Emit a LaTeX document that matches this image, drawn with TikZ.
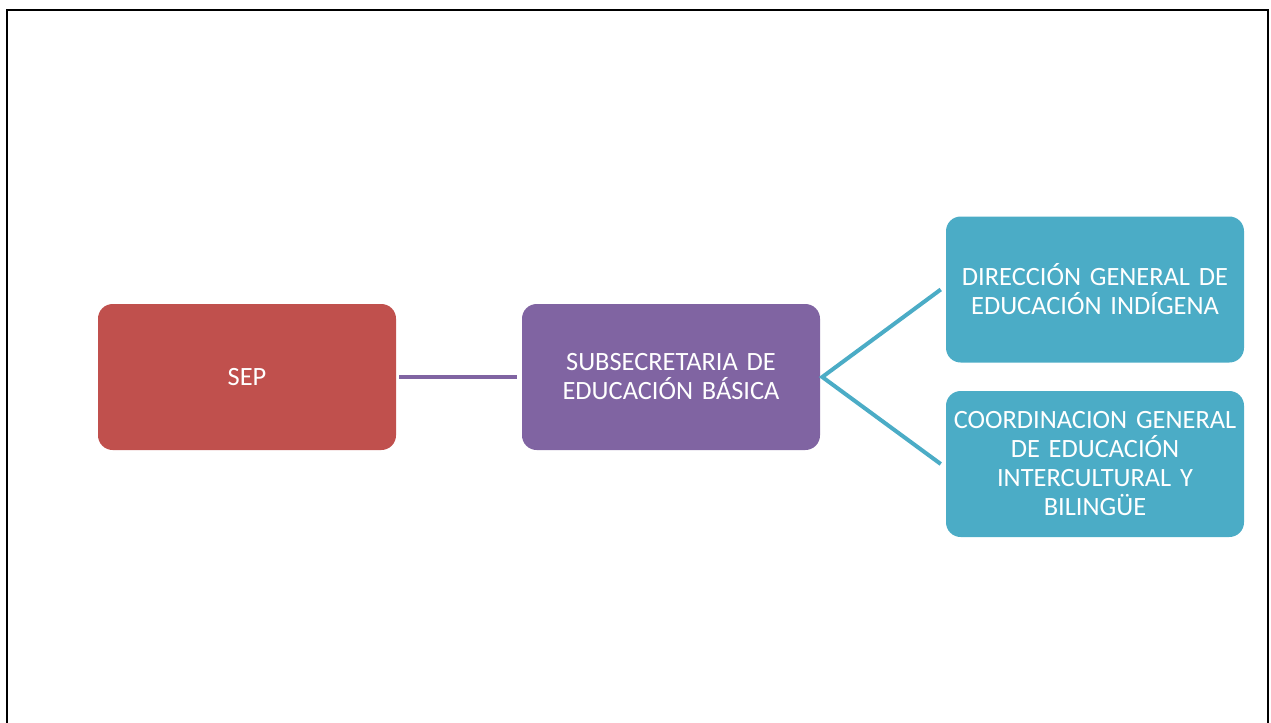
\documentclass[tikz,border=0pt]{standalone}
\usepackage{fontspec}
\setmainfont{Carlito}
\definecolor{sepred}{HTML}{C0504D}
\definecolor{subpurple}{HTML}{8064A2}
\definecolor{dirteal}{HTML}{4BACC6}

\begin{document}
\begin{tikzpicture}[x=0.75pt,y=-0.75pt]
	\tikzstyle{unit}=[rectangle, rounded corners=11pt, minimum height=109.5pt, minimum width=223.5pt, text width=220pt, align=center, text=white, inner sep=0pt, font=\fontsize{19.8}{21.75}\selectfont]
	\useasboundingbox (0,0) rectangle (1271,722);
	\draw[line width=1.5pt] (7,760) -- (7,10) -- (1268,10) -- (1268,760);

	\node[unit, fill=sepred] (sep) at (247,377) {SEP};
	\node[unit, fill=subpurple] (subsec) at (671,377) {SUBSECRETARIA DE\\EDUCACIÓN BÁSICA};
	\node[unit, fill=dirteal] (dgei) at (1095,289.5) {DIRECCIÓN GENERAL DE\\EDUCACIÓN INDÍGENA};
	\node[unit, fill=dirteal] (cgeib) at (1095,464) {COORDINACION GENERAL\\DE EDUCACIÓN\\INTERCULTURAL Y\\BILINGÜE};

	\coordinate (fork) at ([xshift=1.5pt]subsec.east);

	\draw[subpurple, line width=3pt, shorten <=2.25pt, shorten >=3.75pt] (sep) -- (subsec);
	\draw[dirteal, line width=3pt]
		([xshift=-3.75pt]dgei.west) -- (fork) -- ([xshift=-3.75pt]cgeib.west);
\end{tikzpicture}
\end{document}
